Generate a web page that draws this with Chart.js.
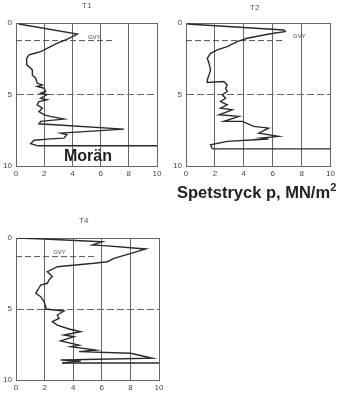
<!DOCTYPE html>
<html>
<head>
<meta charset="utf-8">
<script src="https://cdn.jsdelivr.net/npm/chart.js@4"></script>
<style>
  body { margin: 0; background: #fff; width: 338px; height: 397px; position: relative; overflow: hidden; font-family: "Liberation Sans", Arial, sans-serif; }
  canvas { position: absolute; }
  .title { position: absolute; font-size: 8px; color: #555; }
  .note { position: absolute; font-weight: bold; color: #222; white-space: nowrap; }
</style>
</head>
<body>
<canvas id="t1" width="170" height="185" style="left:0;top:0"></canvas>
<canvas id="t2" width="168" height="185" style="left:170px;top:0"></canvas>
<canvas id="t4" width="170" height="182" style="left:0;top:215px"></canvas>
<div class="title" style="left:82px;top:1px">T1</div>
<div class="title" style="left:250px;top:3px">T2</div>
<div class="title" style="left:79px;top:216px">T4</div>
<div class="note" style="left:64px;top:147px;font-size:16px">Morän</div>
<div class="note" style="left:177px;top:183px;font-size:16.5px">Spetstryck p, MN/m<sup style="font-size:11px;vertical-align:7px;line-height:0">2</sup></div>
<script>
// spetstryck (MN/m2) vs djup (m)
const t1Pressure = [0.2, 4.35, 3.75, 3.4, 2.9, 2.45, 1.75, 1.4, 0.92, 0.76, 0.76, 0.92, 1.16, 1.16, 1.4, 1.5, 1.87, 1.5, 2.0, 2.1, 1.75, 2.2, 1.75, 2.2, 1.63, 1.5, 1.87, 1.63, 2.0, 2.45, 3.4, 1.75, 1.63, 7.65, 3.17, 3.6, 3.4, 2.45, 1.28, 1.04, 1.5];
const t1Depth = [0.07, 0.77, 1.07, 1.23, 1.42, 1.65, 2.0, 2.1, 2.23, 2.47, 2.93, 3.05, 3.28, 3.63, 3.86, 4.2, 4.33, 4.44, 4.56, 4.79, 4.9, 5.0, 5.26, 5.37, 5.49, 5.72, 5.95, 6.19, 6.42, 6.53, 6.72, 6.88, 7.05, 7.42, 7.7, 7.81, 8.05, 8.1, 8.2, 8.44, 8.58];

const t2Pressure = [0.09, 6.76, 6.87, 6.07, 5.38, 4.23, 3.54, 2.85, 2.16, 1.7, 1.47, 1.59, 1.7, 1.59, 1.47, 1.47, 2.62, 2.85, 2.74, 2.85, 2.51, 2.74, 2.39, 2.85, 2.39, 3.2, 2.28, 3.66, 2.62, 3.89, 4.69, 5.72, 5.03, 6.41, 5.15, 5.72, 4.8, 2.85, 1.7, 1.82];
const t2Depth = [0.07, 0.49, 0.6, 0.72, 0.84, 1.07, 1.3, 1.65, 1.88, 2.12, 2.47, 2.81, 3.28, 3.63, 3.98, 4.16, 4.09, 4.33, 4.56, 4.79, 5.02, 5.26, 5.49, 5.72, 5.95, 6.07, 6.42, 6.53, 6.88, 6.88, 7.23, 7.35, 7.7, 7.93, 8.05, 8.12, 8.16, 8.28, 8.51, 8.8];

const t4Pressure = [0.09, 1.96, 6.04, 5.34, 6.15, 9.07, 8.04, 6.85, 6.39, 5.45, 2.89, 2.19, 2.54, 2.31, 2.19, 1.73, 1.38, 1.73, 1.96, 2.08, 2.08, 3.36, 2.89, 3.01, 2.54, 2.89, 3.71, 4.52, 3.36, 4.06, 3.12, 4.41, 3.82, 5.59, 4.41, 8.02, 9.53, 3.12, 4.52, 3.24];
const t4Depth = [0.0, 0.07, 0.26, 0.49, 0.54, 0.77, 1.08, 1.43, 1.67, 1.78, 2.02, 2.37, 2.72, 2.96, 3.19, 3.31, 3.9, 4.13, 4.48, 4.84, 5.0, 5.14, 5.42, 5.66, 5.89, 6.13, 6.41, 6.6, 6.83, 6.95, 7.25, 7.54, 7.65, 7.89, 8.0, 8.12, 8.47, 8.59, 8.66, 8.8];

// grundvattenyta: djup, streckets längd, textens läge [p, djup]
const gvyDepth = [1.23, 1.23, 1.31];
const gvyEnd = [7.0, 6.8, 5.5];
const gvyLabel = [[5.1, 1.0], [7.4, 0.95], [2.6, 1.0]];
// stopp: djup och var linjen börjar
const stopDepth = [8.58, 8.8, 8.8];
const stopFrom = [1.5, 1.82, 3.24];

const xTicks = [0, 2, 4, 6, 8, 10];
const yTicks = [0, 5, 10];

const ink = "#2a2a2a";
const gridInk = "#666";

const gvyText = {
  id: "gvyText",
  afterDatasetsDraw(chart, args, opts) {
    const c = chart.ctx;
    c.save();
    c.font = "6px 'Liberation Sans', Arial";
    c.fillStyle = "#444";
    c.textAlign = "left";
    c.textBaseline = "middle";
    c.fillText("GVY", chart.scales.x.getPixelForValue(opts.at[0]), chart.scales.y.getPixelForValue(opts.at[1]));
    c.restore();
  }
};

function profile(id, pressure, depth, i, pad, xh) {
  const pts = pressure.map((p, k) => ({ x: p, y: depth[k] }));
  new Chart(document.getElementById(id), {
    type: "scatter",
    data: {
      datasets: [
        { data: pts, showLine: true, borderColor: ink, borderWidth: 1.4, pointRadius: 0 },
        { data: [{ x: 0, y: gvyDepth[i] }, { x: gvyEnd[i], y: gvyDepth[i] }], showLine: true,
          borderColor: "#555", borderWidth: 1, borderDash: [6, 3], pointRadius: 0 },
        { data: [{ x: stopFrom[i], y: stopDepth[i] }, { x: 10, y: stopDepth[i] }], showLine: true,
          borderColor: ink, borderWidth: 1.4, pointRadius: 0 },
      ],
    },
    options: {
      responsive: false,
      animation: false,
      layout: { padding: pad },
      plugins: { legend: { display: false }, tooltip: { enabled: false }, gvyText: { at: gvyLabel[i] } },
      scales: {
        x: {
          min: 0, max: 10,
          afterBuildTicks: (s) => { s.ticks = xTicks.map((v) => ({ value: v })); },
          afterFit: (s) => { s.height = xh; },
          ticks: { color: "#444", font: { size: 8 }, padding: 3 },
          grid: { color: gridInk, lineWidth: 1, drawTicks: false },
          border: { color: gridInk },
        },
        y: {
          min: 0, max: 10, reverse: true,
          afterBuildTicks: (s) => { s.ticks = yTicks.map((v) => ({ value: v })); },
          afterFit: (s) => { s.width = 16; },
          ticks: { color: "#444", font: { size: 8 }, padding: 4 },
          grid: { color: gridInk, lineWidth: 1, drawTicks: false },
          border: { color: gridInk, dash: (ctx) => (ctx.tick && ctx.tick.value === 5 ? [7, 3] : []) },
        },
      },
    },
    plugins: [gvyText],
  });
}

profile("t1", t1Pressure, t1Depth, 0, { left: 0, right: 13, top: 23, bottom: 0 }, 19);
profile("t2", t2Pressure, t2Depth, 1, { left: 0, right: 7, top: 23, bottom: 0 }, 19);
profile("t4", t4Pressure, t4Depth, 2, { left: 0, right: 11, top: 23, bottom: 0 }, 17);
</script>
</body>
</html>
